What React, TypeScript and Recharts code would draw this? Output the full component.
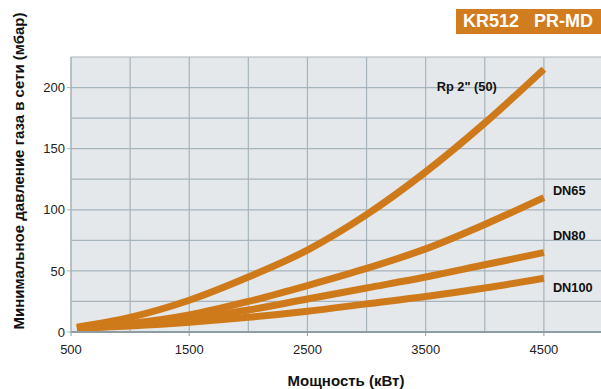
import React from 'react';
import { LineChart, Line, XAxis, YAxis, CartesianGrid } from 'recharts';

const power = [550, 1000, 1500, 2000, 2500, 3000, 3500, 4000, 4500];
const rp50 = [4, 12, 26, 45, 67, 96, 131, 171, 215];
const dn65 = [3.5, 7, 14, 25, 38, 52, 68, 88, 110];
const dn80 = [3, 6, 11, 18, 27, 36, 45, 55, 65];
const dn100 = [3, 5, 8, 12, 17, 23, 29, 36, 44];

const seriesNames = ['Rp 2" (50)', 'DN65', 'DN80', 'DN100'];
const xTicks = [500, 1500, 2500, 3500, 4500];
const yTicks = [0, 50, 100, 150, 200];
const xGrid = [500, 1000, 1500, 2000, 2500, 3000, 3500, 4000, 4500, 5000];
const yGrid = [0, 25, 50, 75, 100, 125, 150, 175, 200, 225];

const data = power.map((p, i) => ({ x: p, rp50: rp50[i], dn65: dn65[i], dn80: dn80[i], dn100: dn100[i] }));

const ORANGE = '#cf7a1a';
const GRID = '#a7b4bb';
const FONT = '"Liberation Sans", Arial, Helvetica, sans-serif';

const makeLabel = (name: string, dx: number, dy: number, anchor: string) => (props: any) => {
  const { x, y, index } = props;
  if (index !== power.length - 1) return null;
  return (
    <text x={x + dx} y={y + dy} textAnchor={anchor} fontFamily={FONT} fontSize={12.8} fontWeight="bold" fill="#111">
      {name}
    </text>
  );
};

export default function App() {
  return (
    <div style={{ position: 'absolute', left: 0, top: 0, width: 601, height: 389, overflow: 'hidden', background: '#fff' }}>
      <LineChart width={610} height={389} data={data} margin={{ top: 57, right: 7, bottom: 27, left: 0 }}>
        <CartesianGrid
          fill="#e4e8ea"
          stroke={GRID}
          strokeWidth={1.2}
          horizontalValues={yGrid}
          verticalValues={xGrid}
        />
        <XAxis
          type="number"
          dataKey="x"
          domain={[500, 5000]}
          ticks={xTicks}
          height={30}
          tickSize={4}
          tickMargin={9}
          axisLine={{ stroke: '#8e9ca4', strokeWidth: 2 }}
          tickLine={{ stroke: '#8e9ca4' }}
          tick={{ fontFamily: FONT, fontSize: 13, fill: '#222' }}
          allowDataOverflow
          label={{
            content: () => (
              <text x={346} y={386} textAnchor="middle" fontFamily={FONT} fontSize={15} fontWeight="bold" fill="#111">
                Мощность (кВт)
              </text>
            ),
          }}
        />
        <YAxis
          type="number"
          domain={[0, 225]}
          ticks={yTicks}
          width={71}
          tickSize={4}
          tickMargin={2}
          axisLine={{ stroke: GRID }}
          tickLine={{ stroke: GRID }}
          tick={{ fontFamily: FONT, fontSize: 13, fill: '#222' }}
          allowDataOverflow
          label={{
            content: () => (
              <text
                x={24}
                y={171}
                transform="rotate(-90 24 171)"
                textAnchor="middle"
                fontFamily={FONT}
                fontSize={15}
                fontWeight="bold"
                fill="#111"
              >
                Минимальное давление газа в сети (мбар)
              </text>
            ),
          }}
        />
        <Line type="monotone" dataKey="rp50" stroke={ORANGE} strokeWidth={7} dot={false} isAnimationActive={false}
          label={makeLabel(seriesNames[0], -47, 22, 'end')} />
        <Line type="monotone" dataKey="dn65" stroke={ORANGE} strokeWidth={7} dot={false} isAnimationActive={false}
          label={makeLabel(seriesNames[1], 9, -3, 'start')} />
        <Line type="monotone" dataKey="dn80" stroke={ORANGE} strokeWidth={7} dot={false} isAnimationActive={false}
          label={makeLabel(seriesNames[2], 9, -13, 'start')} />
        <Line type="monotone" dataKey="dn100" stroke={ORANGE} strokeWidth={7} dot={false} isAnimationActive={false}
          label={makeLabel(seriesNames[3], 9, 14, 'start')} />
      </LineChart>
      <div
        style={{
          position: 'absolute',
          left: 456,
          top: 9,
          width: 150,
          height: 25,
          background: '#d07c1f',
          color: '#fff',
          fontFamily: FONT,
          fontWeight: 'bold',
          fontSize: 18,
          lineHeight: '25px',
          paddingLeft: 7,
          whiteSpace: 'pre',
          boxSizing: 'border-box',
        }}
      >
        {'KR512   PR-MD'}
      </div>
    </div>
  );
}
